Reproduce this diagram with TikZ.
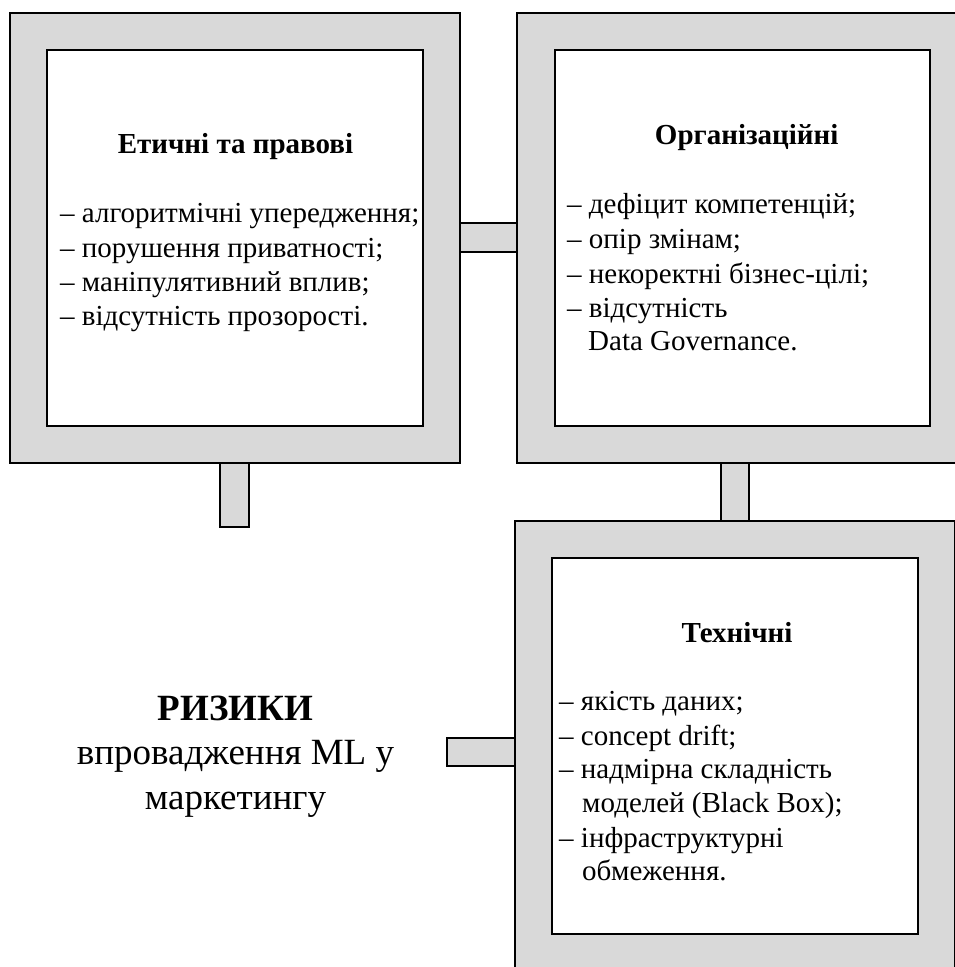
\documentclass[tikz,border=0pt]{standalone}
\usepackage{fontspec}
\setmainfont{Liberation Serif}
\definecolor{boxgray}{HTML}{D9D9D9}
\tikzset{
  outerbox/.style={draw=black, line width=1.2pt, fill=boxgray, inner sep=0pt},
  innerbox/.style={draw=black, line width=1.2pt, fill=white, inner sep=0pt},
  conn/.style={draw=black, line width=1.2pt, fill=boxgray},
  title/.style={anchor=base, inner sep=0pt, font=\fontsize{29}{34}\selectfont\bfseries},
  item/.style={anchor=base west, inner sep=0pt, font=\fontsize{29}{34}\selectfont},
}
\begin{document}
\begin{tikzpicture}[x=1pt,y=-1pt]
\useasboundingbox (0,0) rectangle (955,967);
\begin{scope}
\clip (0,0) rectangle (955,967);
% outer boxes
\node[outerbox, minimum width=450pt, minimum height=450pt] (o1) at (235,238) {};
\node[outerbox, minimum width=451pt, minimum height=450pt] (o2) at (742.5,238) {};
\node[outerbox, minimum width=440pt, minimum height=450pt] (o3) at (735,746) {};
% inner boxes
\node[innerbox, minimum width=376pt, minimum height=376pt] (i1) at (235,238) {};
\node[innerbox, minimum width=375pt, minimum height=376pt] (i2) at (742.5,238) {};
\node[innerbox, minimum width=366pt, minimum height=376pt] (i3) at (735,746) {};
% connectors
\coordinate (c1end) at (249,527);
\coordinate (c3end) at (447,738);
\draw[conn] (o1.east |- 0,223) rectangle (o2.west |- 0,252);
\draw[conn] (220,0 |- o1.south) rectangle (c1end);
\draw[conn] (721,0 |- o2.south) rectangle (749,0 |- o3.north);
\draw[conn] (c3end) rectangle (o3.west |- 0,766);
\end{scope}
% box 1 text
\node[title] (t1) at (235.5,153) {Етичні та правові};
\node[item] (l11) at (60,222) {– алгоритмічні упередження;};
\node[item] (l12) at (60,257) {– порушення приватності;};
\node[item] (l13) at (60,291) {– маніпулятивний вплив;};
\node[item] (l14) at (60,325) {– відсутність прозорості.};
% box 2 text
\node[title] (t2) at (746.7,144) {Організаційні};
\node[item] (l21) at (567,213) {– дефіцит компетенцій;};
\node[item] (l22) at (567,248) {– опір змінам;};
\node[item] (l23) at (567,283) {– некоректні бізнес-цілі;};
\node[item] (l24) at (567,317) {– відсутність};
\node[item] (l25) at (588,350) {Data Governance.};
% box 3 text
\node[title] (t3) at (737,642) {Технічні};
\node[item] (l31) at (559,710) {– якість даних;};
\node[item] (l32) at (559,745) {– concept drift;};
\node[item] (l33) at (559,778) {– надмірна складність};
\node[item] (l34) at (582,812) {моделей (Black Box);};
\node[item] (l35) at (559,847) {– інфраструктурні};
\node[item] (l36) at (582,880) {обмеження.};
% central label
\node[anchor=base, inner sep=0pt, font=\fontsize{37}{44}\selectfont\bfseries] (r1) at (235.5,720) {РИЗИКИ};
\node[anchor=base, inner sep=0pt, font=\fontsize{37}{44}\selectfont] (r2) at (235.5,764) {впровадження ML у};
\node[anchor=base, inner sep=0pt, font=\fontsize{37}{44}\selectfont] (r3) at (235.5,809) {маркетингу};
\end{tikzpicture}
\end{document}
